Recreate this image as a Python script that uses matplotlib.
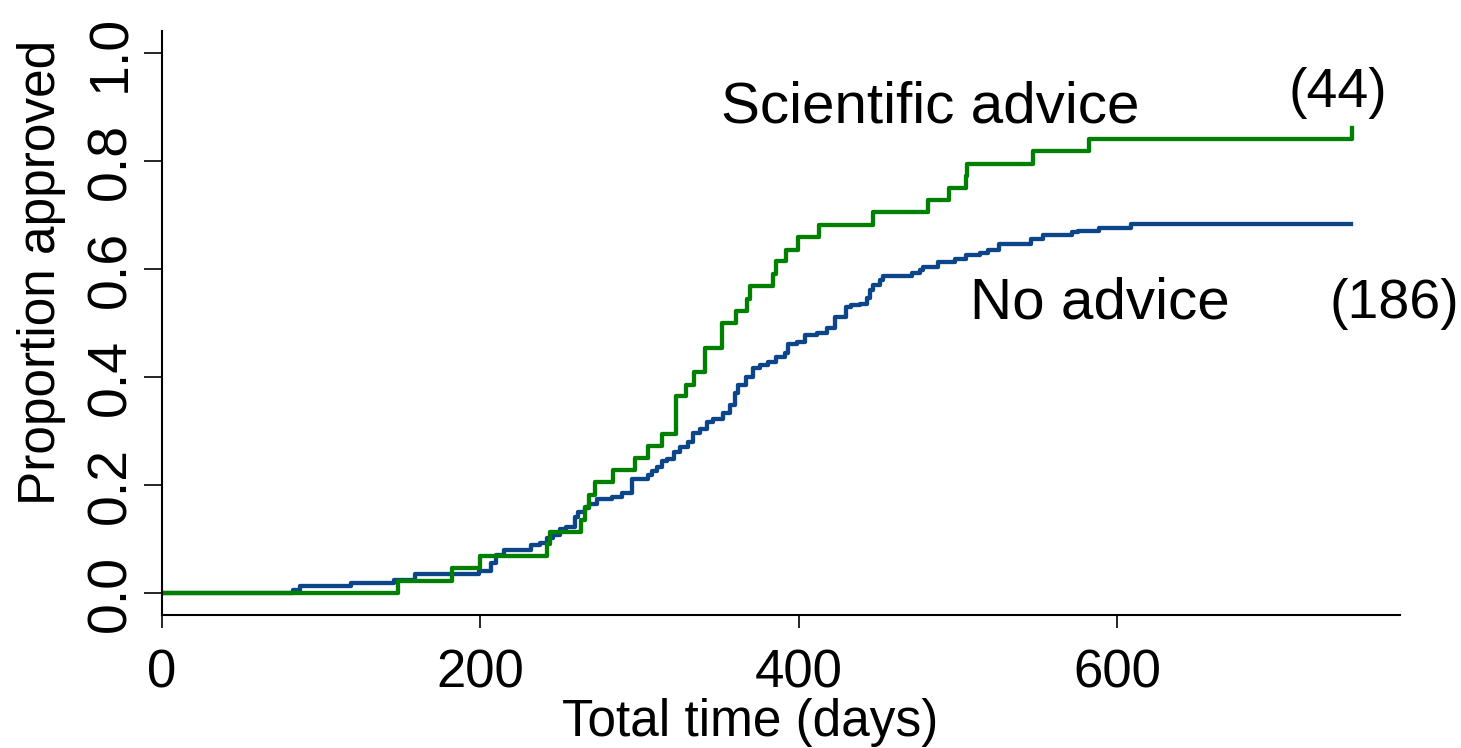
import matplotlib.pyplot as plt

plt.rcParams['font.family'] = ['Liberation Sans', 'DejaVu Sans']

# Kaplan-Meier style curves (1 - survival)
# Scientific advice (n = 44)
sa_days = [0, 148, 182, 200, 241.6, 244, 263.5, 265.5, 268, 272, 283.5, 297,
           305.5, 314, 323, 329, 334, 341, 351.6, 360.6, 367.3, 369.4, 383.7,
           386, 392, 399.4, 412.8, 446.5, 481.5, 494.6, 505, 506, 547.4,
           582.6, 747.4]
sa_prop = [0.0, 0.0227, 0.0455, 0.068, 0.091, 0.1135, 0.136, 0.159, 0.181,
           0.205, 0.228, 0.25, 0.273, 0.295, 0.364, 0.386, 0.409, 0.454, 0.50,
           0.523, 0.545, 0.568, 0.591, 0.614, 0.636, 0.659, 0.682, 0.705,
           0.727, 0.75, 0.772, 0.795, 0.818, 0.84, 0.862]

# No advice (n = 186)
na_days = [0, 82, 87, 119, 146, 159, 199, 207, 210, 215, 232, 237.5, 241.6,
           245.8, 250, 254, 259.5, 261.5, 266, 268, 273, 282.5, 288.8, 295,
           305.5, 307.6, 310.8, 314, 317, 321.7, 325.4, 330.7, 333.4, 338,
           342.2, 346.4, 352.7, 356.8, 360, 362, 367, 371.4, 375.7, 381, 386,
           391.4, 393.5, 398.7, 404, 411.3, 417.6, 422.8, 430, 433, 438.5,
           442.7, 444.8, 447, 451, 453, 471, 476, 478, 487.5, 498, 505, 514,
           519, 526, 545.7, 553.6, 571.5, 575.7, 589, 609, 747]
na_prop = [0.0, 0.0056, 0.0135, 0.018, 0.025, 0.0346, 0.0407, 0.055, 0.070,
           0.0796, 0.089, 0.092, 0.101, 0.107, 0.1185, 0.123, 0.141, 0.150,
           0.157, 0.165, 0.1735, 0.177, 0.185, 0.2105, 0.2185, 0.2265, 0.233,
           0.2444, 0.249, 0.2617, 0.271, 0.280, 0.296, 0.303, 0.317, 0.323,
           0.333, 0.349, 0.37, 0.385, 0.4006, 0.416, 0.422, 0.427, 0.4377,
           0.444, 0.461, 0.465, 0.478, 0.481, 0.490, 0.512, 0.530, 0.533,
           0.536, 0.546, 0.561, 0.570, 0.580, 0.587, 0.592, 0.598, 0.604,
           0.613, 0.618, 0.625, 0.629, 0.635, 0.646, 0.6555, 0.663, 0.668,
           0.671, 0.675, 0.683, 0.683]

x_ticks = [0, 200, 400, 600]
y_ticks = [0.0, 0.2, 0.4, 0.6, 0.8, 1.0]
y_ticklabels = ['0.0', '0.2', '0.4', '0.6', '0.8', '1.0']

fig = plt.figure(figsize=(14.61, 7.48), dpi=100)
ax = fig.add_axes([162 / 1461, 133 / 748, 1238 / 1461, 584 / 748])

ax.plot(na_days, na_prop, drawstyle='steps-post', color='#0c4689', lw=3.1)
ax.plot(sa_days, sa_prop, drawstyle='steps-post', color='#008000', lw=3.1)

ax.set_xlim(0, 777.8)
ax.set_ylim(-0.0407, 1.0407)

ax.spines['top'].set_visible(False)
ax.spines['right'].set_visible(False)
ax.spines['left'].set_linewidth(1.5)
ax.spines['bottom'].set_linewidth(1.5)

ax.set_xticks(x_ticks)
ax.set_yticks(y_ticks)
ax.set_yticklabels(y_ticklabels, rotation=90, va='center')
ax.tick_params(axis='x', length=9, width=1.2, pad=15, labelsize=38)
ax.tick_params(axis='y', length=13, width=1.2, pad=5, labelsize=40)

ax.set_xlabel('Total time (days)', fontsize=37)
ax.set_ylabel('Proportion approved', fontsize=37)
ax.xaxis.set_label_coords(0.475, -0.142)
ax.yaxis.set_label_coords(-0.0775, 0.586)

# group labels and numbers at risk
ax.text(351, 0.872, 'Scientific advice', fontsize=42, ha='left', va='baseline')
ax.text(707.5, 0.90, '(44)', fontsize=40, ha='left', va='baseline', clip_on=False)
ax.text(507.6, 0.509, 'No advice', fontsize=42, ha='left', va='baseline')
ax.text(733.8, 0.509, '(186)', fontsize=40, ha='left', va='baseline', clip_on=False)

fig.savefig('out.png', dpi=100)
